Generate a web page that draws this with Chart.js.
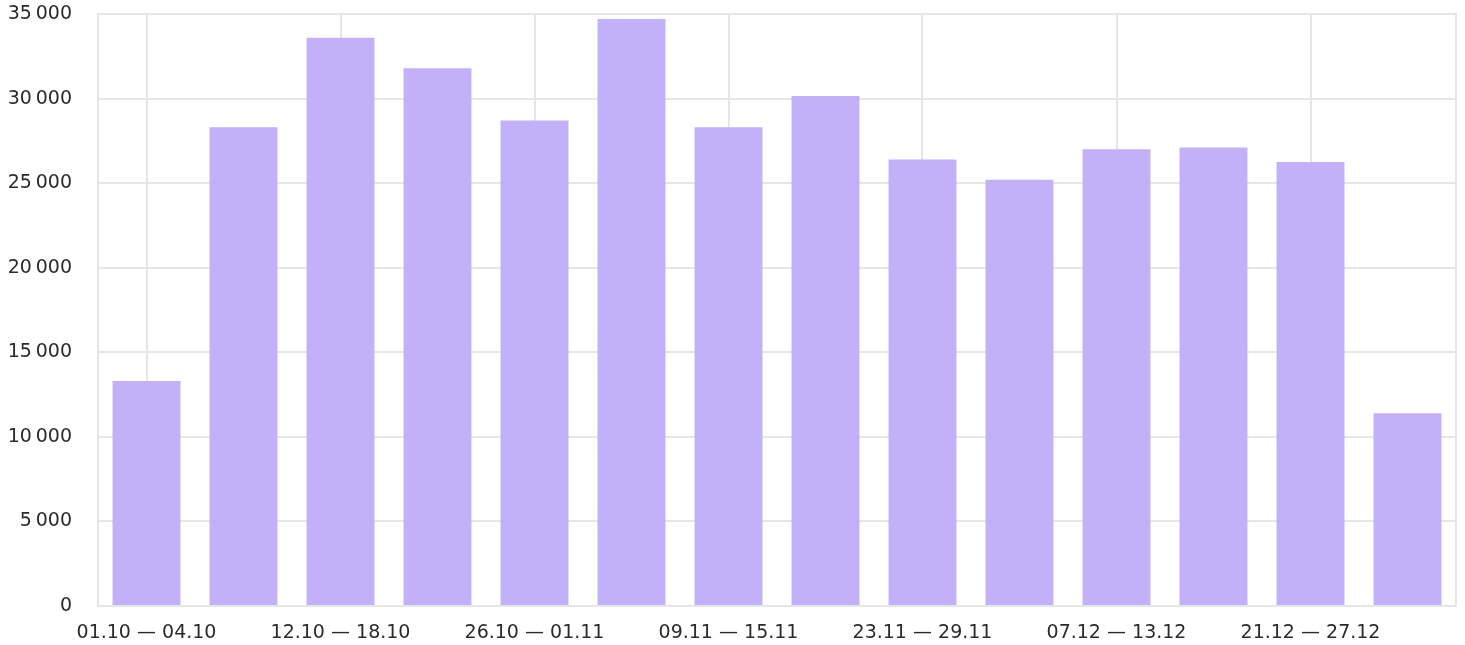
<!DOCTYPE html>
<html>
<head>
<meta charset="utf-8">
<script src="https://cdn.jsdelivr.net/npm/chart.js@4/dist/chart.umd.min.js"></script>
<style>
  html, body { margin: 0; padding: 0; background: #fff; }
  #wrap { width: 1465px; height: 645px; }
</style>
</head>
<body>
<div id="wrap"><canvas id="chart"></canvas></div>
<script>
// Недели (подписи по оси X)
const weeks = [
  '01.10 — 04.10', '05.10 — 11.10', '12.10 — 18.10', '19.10 — 25.10',
  '26.10 — 01.11', '02.11 — 08.11', '09.11 — 15.11', '16.11 — 22.11',
  '23.11 — 29.11', '30.11 — 06.12', '07.12 — 13.12', '14.12 — 20.12',
  '21.12 — 27.12', '28.12 — 31.12'
];

// Значения по неделям
const values = [
  13300, 28300, 33600, 31800, 28700, 34700, 28300,
  30150, 26400, 25200, 27000, 27100, 26250, 11400
];

const yMax = 35000;
const yStep = 5000;

const fmt = v => String(v).replace(/\B(?=(\d{3})+(?!\d))/g, '\u202F');
const font = { family: '"DejaVu Sans", sans-serif', size: 19 };
const gridColor = '#e6e6e6';

new Chart(document.getElementById('chart'), {
  type: 'bar',
  data: {
    labels: weeks,
    datasets: [{
      data: values,
      backgroundColor: '#c2b1f9',
      barPercentage: 0.7,
      categoryPercentage: 1
    }]
  },
  options: {
    responsive: true,
    maintainAspectRatio: false,
    animation: false,
    layout: { autoPadding: false, padding: { left: 0, right: 9, top: 14, bottom: 0 } },
    plugins: { legend: { display: false }, tooltip: { enabled: false } },
    scales: {
      x: {
        grid: {
          offset: false,
          drawTicks: false,
          color: ctx => (ctx.index % 2 === 0 ? gridColor : 'rgba(0,0,0,0)'),
          lineWidth: 2
        },
        border: { color: gridColor, width: 2 },
        ticks: {
          autoSkip: false,
          maxRotation: 0,
          padding: 16,
          color: '#2b2b2b',
          font: font,
          callback: (v, i) => (i % 2 === 0 ? weeks[i] : '')
        },
        afterFit: s => { s.height = 39; }
      },
      y: {
        min: 0,
        max: yMax,
        grid: { drawTicks: false, color: gridColor, lineWidth: 2 },
        border: { color: gridColor, width: 2 },
        ticks: {
          stepSize: yStep,
          padding: 26,
          color: '#2b2b2b',
          font: font,
          callback: v => fmt(v)
        },
        // tick padding would otherwise push the plot area down
        afterFit: s => { s.width = 98; s.paddingTop = 0; s.paddingBottom = 0; }
      },
      y2: {
        position: 'right',
        min: 0,
        max: yMax,
        grid: { drawOnChartArea: false, drawTicks: false },
        border: { color: gridColor, width: 2 },
        ticks: { display: false }
      }
    }
  }
});
</script>
</body>
</html>
